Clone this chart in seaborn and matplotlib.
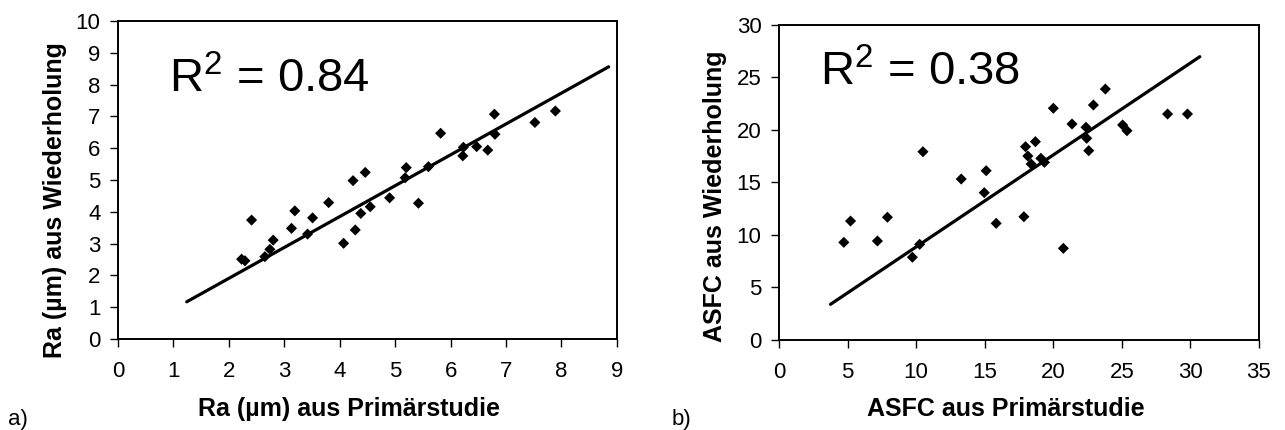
import numpy as np
import pandas as pd
import matplotlib
matplotlib.use('Agg')
import matplotlib.pyplot as plt
import seaborn as sns

# Panel a: Ra (um) primary study vs. repetition
ra_prim = [2.23, 2.29, 2.41, 2.65, 2.74, 2.80, 3.13, 3.19, 3.42, 3.51, 3.80,
           4.07, 4.24, 4.28, 4.38, 4.46, 4.55, 4.90, 5.18, 5.20, 5.42, 5.60,
           5.82, 6.22, 6.23, 6.47, 6.67, 6.80, 6.79, 7.52, 7.89]
ra_wdh = [2.51, 2.46, 3.74, 2.59, 2.82, 3.11, 3.48, 4.03, 3.30, 3.81, 4.29,
          3.01, 4.98, 3.43, 3.95, 5.24, 4.16, 4.44, 5.07, 5.39, 4.27, 5.42,
          6.47, 5.76, 6.03, 6.05, 5.94, 6.44, 7.07, 6.81, 7.17]
ra_fit_x = [1.24, 8.85]
ra_fit_y = [1.17, 8.56]
ra_r2 = 0.84

# Panel b: ASFC primary study vs. repetition
asfc_prim = [4.73, 5.22, 7.18, 7.91, 9.73, 10.26, 10.50, 13.29, 14.97, 15.11,
             15.84, 17.86, 17.98, 18.15, 18.39, 18.70, 19.10, 19.36, 20.01,
             20.74, 21.37, 22.39, 22.44, 22.59, 22.93, 23.80, 25.06, 25.38,
             28.34, 29.79]
asfc_wdh = [9.30, 11.33, 9.43, 11.69, 7.88, 9.11, 17.93, 15.33, 14.03, 16.12,
            11.11, 11.74, 18.41, 17.52, 16.76, 18.89, 17.30, 16.92, 22.07,
            8.73, 20.57, 20.26, 19.21, 18.03, 22.38, 23.90, 20.48, 19.93,
            21.52, 21.52]
asfc_fit_x = [3.76, 30.69]
asfc_fit_y = [3.40, 26.98]
asfc_r2 = 0.38

sns.set_style('ticks')
plt.rcParams['font.family'] = ['Liberation Sans', 'DejaVu Sans']
plt.rcParams['mathtext.fontset'] = 'custom'
plt.rcParams['mathtext.rm'] = 'Liberation Sans'
plt.rcParams['mathtext.it'] = 'Liberation Sans'
plt.rcParams['mathtext.bf'] = 'Liberation Sans:bold'
plt.rcParams['text.color'] = 'black'
plt.rcParams['axes.labelcolor'] = 'black'

fig = plt.figure(figsize=(12.85, 4.3), dpi=100)
ax1 = fig.add_axes([0.0918, 0.2116, 0.3883, 0.7395])
ax2 = fig.add_axes([0.6062, 0.2093, 0.3735, 0.7326])

df_a = pd.DataFrame({'x': ra_prim, 'y': ra_wdh})
df_b = pd.DataFrame({'x': asfc_prim, 'y': asfc_wdh})

panels = [
    (ax1, df_a, ra_fit_x, ra_fit_y, ra_r2, (0, 9), (0, 10), 1, 1,
     'Ra (µm) aus Primärstudie', 'Ra (µm) aus Wiederholung', (0.92, 7.77)),
    (ax2, df_b, asfc_fit_x, asfc_fit_y, asfc_r2, (0, 35), (0, 30), 5, 5,
     'ASFC aus Primärstudie', 'ASFC aus Wiederholung', (2.99, 24.2)),
]

for ax, d, fx, fy, r2, xl, yl, xs, ys, xlab, ylab, tpos in panels:
    sns.lineplot(x=fx, y=fy, ax=ax, color='black', linewidth=2.3)
    sns.scatterplot(data=d, x='x', y='y', ax=ax, marker='D', s=32,
                    color='black', edgecolor='none', zorder=3)
    ax.set_xlim(*xl)
    ax.set_ylim(*yl)
    ax.set_xticks(np.arange(xl[0], xl[1] + 0.1, xs))
    ax.set_yticks(np.arange(yl[0], yl[1] + 0.1, ys))
    for sp in ax.spines.values():
        sp.set_visible(True)
        sp.set_linewidth(1.4)
        sp.set_color('black')
    ax.tick_params(direction='out', length=5.5, width=1.0, labelsize=16,
                   colors='black')
    ax.tick_params(axis='x', pad=10)
    ax.tick_params(axis='y', pad=7)
    ax.set_xlabel(xlab, fontsize=18, fontweight='bold')
    ax.set_ylabel(ylab, fontsize=18, fontweight='bold')
    ax.text(tpos[0], tpos[1], 'R$^{2}$ = %.2f' % r2, fontsize=34,
            ha='left', va='baseline')

ax1.xaxis.set_label_coords(0.463, -0.182)
ax2.xaxis.set_label_coords(0.473, -0.181)
ax1.yaxis.set_label_coords(-0.102, 0.437)
ax2.yaxis.set_label_coords(-0.108, 0.457)

fig.text(8 / 1285, 5 / 430, 'a)', fontsize=16, va='baseline')
fig.text(672 / 1285, 5 / 430, 'b)', fontsize=16, va='baseline')

fig.savefig('out.png', dpi=100)
